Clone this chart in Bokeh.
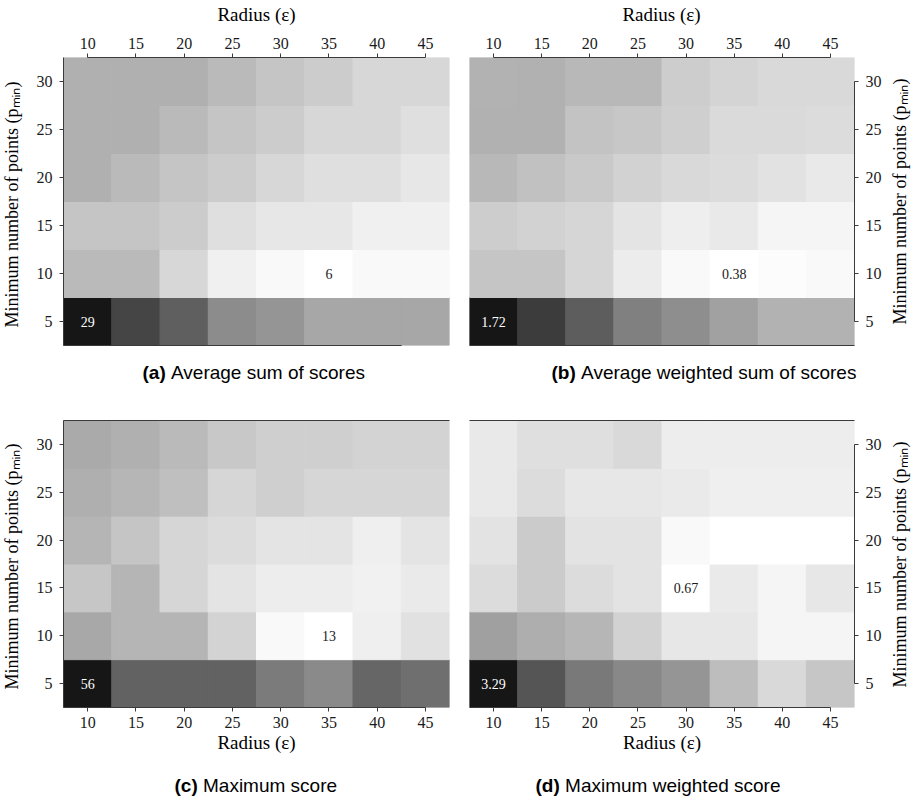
import numpy as np
from bokeh.plotting import figure
from bokeh.models import (LinearColorMapper, FixedTicker, LinearAxis, Label,
                          ColumnDataSource, Range1d)
from bokeh.layouts import row, column
from bokeh.embed import file_html
from bokeh.resources import INLINE
from bokeh.core.properties import value

# ---------------- data ----------------
radius = [10, 15, 20, 25, 30, 35, 40, 45]
min_points = [5, 10, 15, 20, 25, 30]

# rows: min_points 5 .. 30 ; columns: radius 10 .. 45
avg_sum = [
    [29.0, 24.4, 21.8, 17.4, 16.5, 14.7, 14.7, 14.7],
    [12.9, 12.9, 10.0, 7.5, 6.7, 6.0, 6.7, 6.7],
    [11.8, 11.8, 11.1, 9.2, 8.4, 8.4, 7.5, 7.5],
    [13.8, 12.9, 11.8, 11.1, 10.0, 9.2, 9.2, 8.4],
    [13.8, 13.8, 12.9, 11.8, 11.1, 10.0, 10.0, 9.2],
    [13.8, 13.8, 13.8, 12.9, 11.8, 11.1, 10.0, 10.0],
]
avg_weighted_sum = [
    [1.72, 1.50, 1.31, 1.11, 1.03, 0.92, 0.82, 0.82],
    [0.72, 0.72, 0.62, 0.49, 0.42, 0.38, 0.40, 0.42],
    [0.67, 0.64, 0.62, 0.54, 0.48, 0.51, 0.44, 0.44],
    [0.79, 0.74, 0.69, 0.64, 0.60, 0.58, 0.55, 0.51],
    [0.83, 0.83, 0.73, 0.70, 0.66, 0.59, 0.59, 0.58],
    [0.82, 0.83, 0.79, 0.79, 0.67, 0.63, 0.60, 0.60],
]
max_score = [
    [56.0, 42.0, 42.0, 42.0, 37.4, 34.6, 41.1, 39.6],
    [29.1, 26.7, 26.7, 21.1, 14.3, 13.0, 16.1, 18.7],
    [23.5, 26.7, 20.6, 18.2, 16.5, 16.5, 15.6, 16.9],
    [26.7, 23.9, 20.6, 19.5, 18.2, 18.2, 16.1, 18.2],
    [27.8, 26.5, 24.8, 20.6, 21.9, 20.6, 20.6, 20.6],
    [28.7, 27.6, 25.9, 23.2, 21.9, 21.9, 21.1, 21.1],
]
max_weighted_score = [
    [3.29, 2.58, 2.18, 2.01, 1.86, 1.41, 1.11, 1.31],
    [1.74, 1.59, 1.49, 1.18, 0.94, 0.94, 0.79, 0.79],
    [1.06, 1.26, 1.06, 0.99, 0.67, 0.91, 0.79, 0.94],
    [0.99, 1.26, 0.99, 0.99, 0.75, 0.67, 0.67, 0.67],
    [0.92, 1.06, 0.94, 0.94, 0.91, 0.86, 0.86, 0.86],
    [0.92, 1.03, 1.03, 1.10, 0.88, 0.88, 0.88, 0.88],
]

annot_a = dict(x=[10, 35], y=[5, 10], text=["29", "6"])
annot_b = dict(x=[10, 35], y=[5, 10], text=["1.72", "0.38"])
annot_c = dict(x=[10, 35], y=[5, 10], text=["56", "13"])
annot_d = dict(x=[10, 30], y=[5, 15], text=["3.29", "0.67"])

cap_letters = ["(a)", "(b)", "(c)", "(d)"]
cap_texts = ["Average sum of scores", "Average weighted sum of scores",
             "Maximum score", "Maximum weighted score"]
x_title = "Radius (ε)"
y_title = "Minimum number of points (pₘᵢₙ)"

# ---------------- style ----------------
SERIF = "Liberation Serif"
SANS = "Liberation Sans"
AX = "#3a3a3a"
TXT = "#1a1a1a"
TOTAL_W = 912
# white (low) -> near black (high)
GRAYS = []
for i in range(256):
    g = int(round(255 - i * (255 - 22) / 255.0))
    GRAYS.append("#%02x%02x%02x" % (g, g, g))


def style_axis(ax, standoff, title_standoff):
    ax.axis_line_color = AX
    ax.axis_line_width = 1
    ax.major_tick_line_color = AX
    ax.major_tick_out = 4
    ax.major_tick_in = 0
    ax.minor_tick_line_color = None
    ax.major_label_text_font = SERIF
    ax.major_label_text_font_size = "16px"
    ax.major_label_text_color = TXT
    ax.major_label_standoff = standoff
    ax.axis_label_text_font = SERIF
    ax.axis_label_text_font_size = "19px"
    ax.axis_label_text_font_style = "normal"
    ax.axis_label_text_color = "black"
    ax.axis_label_standoff = title_standoff


def line_axis(bounds):
    ax = LinearAxis(ticker=FixedTicker(ticks=[]), bounds=bounds)
    ax.axis_line_color = AX
    ax.major_tick_line_color = None
    ax.minor_tick_line_color = None
    ax.major_tick_out = 0
    ax.major_tick_in = 0
    ax.major_label_text_font_size = "0px"
    ax.major_label_standoff = 0
    return ax


def blank(width, height, y_range=None):
    s = figure(width=width, height=height, x_range=Range1d(0, width),
               y_range=y_range if y_range is not None else Range1d(0, height),
               x_axis_location=None, y_axis_location=None,
               toolbar_location=None, output_backend="svg",
               min_border_left=0, min_border_right=0, min_border_top=0, min_border_bottom=0)
    s.outline_line_color = None
    s.grid.visible = False
    s.background_fill_color = "white"
    s.border_fill_color = "white"
    return s


def panel(vals, annot, fw, fh, borders, xside, yside, extra_side, extra_bounds):
    bl, br, bt, bb = borders
    p = figure(frame_width=fw, frame_height=fh,
               x_range=Range1d(7.5, 47.5), y_range=Range1d(2.5, 32.5),
               x_axis_location=None, y_axis_location=None,
               toolbar_location=None, output_backend="svg",
               min_border_left=bl, min_border_right=br,
               min_border_top=bt, min_border_bottom=bb)
    p.outline_line_color = None
    p.grid.visible = False
    p.background_fill_color = "white"
    p.border_fill_color = "white"

    xs, ys, vs = [], [], []
    for r, yv in enumerate(min_points):
        for c, xv in enumerate(radius):
            xs.append(xv)
            ys.append(yv)
            vs.append(vals[r][c])
    src = ColumnDataSource(dict(x=xs, y=ys, v=vs))
    mapper = LinearColorMapper(palette=GRAYS, low=min(vs), high=max(vs))
    p.rect(x="x", y="y", width=5, height=5, source=src,
           fill_color={"field": "v", "transform": mapper},
           line_color={"field": "v", "transform": mapper}, line_width=1)

    colors = ["white", TXT]
    asrc = ColumnDataSource(dict(x=annot["x"], y=annot["y"], text=annot["text"], c=colors))
    p.text(x="x", y="y", text="text", source=asrc, text_color="c",
           text_font=value(SERIF), text_font_size="14px",
           text_align="center", text_baseline="middle")

    xa = LinearAxis(ticker=FixedTicker(ticks=radius),
                    bounds=(10, 45) if xside == "above" else (7.5, 45))
    style_axis(xa, 5, 1)
    if xside == "below":
        xa.axis_label = x_title
    p.add_layout(xa, xside)

    ya = LinearAxis(ticker=FixedTicker(ticks=min_points),
                    bounds=(5, 30) if yside == "right" else "auto")
    style_axis(ya, 7, 0)
    p.add_layout(ya, yside)
    p.add_layout(line_axis(extra_bounds), extra_side)
    return p


def ytitle_strip(width, height, frame_top, frame_bottom, sx, sy):
    # the strip's frame is aligned with the neighbouring panels' frames,
    # so its y range is expressed in page pixels (top -> bottom)
    s = blank(width, height, y_range=Range1d(frame_bottom, frame_top))
    s.add_layout(Label(x=sx, y=sy, text=y_title, angle=np.pi / 2,
                       text_font=SERIF, text_font_size="18px", text_color="black",
                       text_align="center", text_baseline="middle"))
    return s


def xtitle_strip(height, centers, sy):
    s = blank(TOTAL_W, height)
    for sx in centers:
        s.add_layout(Label(x=sx, y=height - sy, text=x_title,
                           text_font=SERIF, text_font_size="19px", text_color="black",
                           text_align="center", text_baseline="middle"))
    return s


def caption_strip(height, items):
    s = blank(TOTAL_W, height)
    for idx, sx, sy in items:
        lw = 23.2 if cap_letters[idx] in ("(a)", "(c)") else 24.3
        s.add_layout(Label(x=sx, y=height - sy, text=cap_letters[idx],
                           text_font=SANS, text_font_size="19px", text_font_style="bold",
                           text_color="black", text_align="left", text_baseline="middle"))
        s.add_layout(Label(x=sx + lw + 5.3, y=height - sy, text=cap_texts[idx],
                           text_font=SANS, text_font_size="19px",
                           text_color="black", text_align="left", text_baseline="middle"))
    return s


LS, RS = 26, 28          # widths of the y-title strips
TOP = 26                 # height of the top x-title strip
H1, H2 = 325, 364        # heights of the two panel rows

top = xtitle_strip(TOP, [256, 661], 14)

# top row: frames at x 63..449 / 469..854, y 57..345
pa = panel(avg_sum, annot_a, 386, 288, (37, 10, 31, 6), "above", "left", "below", (7.5, 42.5))
pb = panel(avg_weighted_sum, annot_b, 385, 288, (10, 30, 31, 6), "above", "right", "below", (7.5, 47.5))
la = ytitle_strip(LS, H1, 57, 345, 11, 204)
rb = ytitle_strip(RS, H1, 57, 345, 15, 201)
cap1 = caption_strip(45, [(0, 142, 21), (1, 551, 21)])

# bottom row: frames at y 420..707
pc = panel(max_score, annot_c, 386, 287, (37, 10, 24, 53), "below", "left", "above", (7.5, 47.5))
pd = panel(max_weighted_score, annot_d, 385, 287, (10, 30, 24, 53), "below", "right", "above", (7.5, 47.5))
lc = ytitle_strip(LS, H2, 420, 707, 11, 566)
rd = ytitle_strip(RS, H2, 420, 707, 15, 564)
cap2 = caption_strip(37, [(2, 174, 25), (3, 535, 25)])

layout = column(top, row(la, pa, pb, rb), cap1, row(lc, pc, pd, rd), cap2)
open("out.html", "w").write(file_html(layout, INLINE))
